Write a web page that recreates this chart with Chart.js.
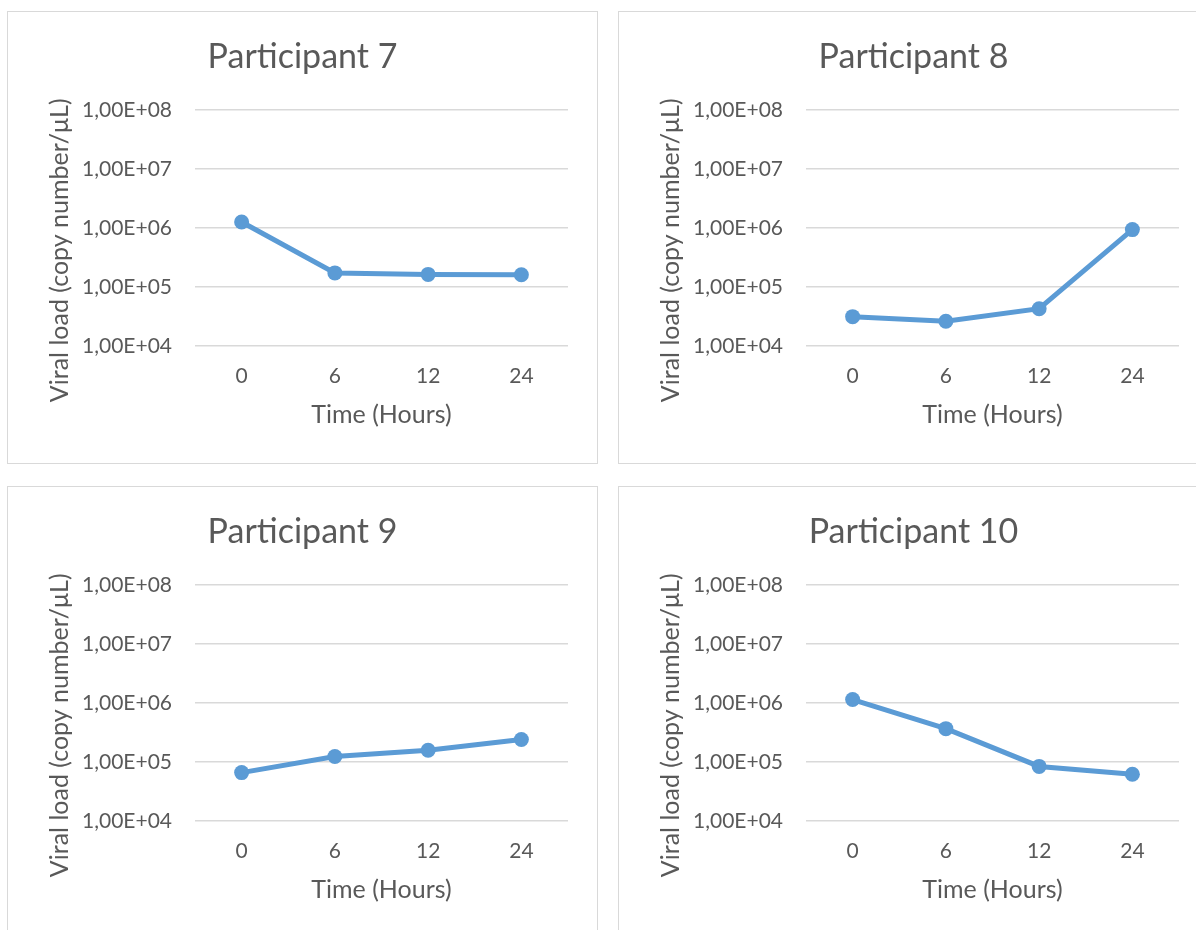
<!DOCTYPE html>
<html>
<head>
<meta charset="utf-8">
<script src="https://cdn.jsdelivr.net/npm/chart.js@4.4.1/dist/chart.umd.min.js"></script>
<style>
  body { margin: 0; background: #fff; width: 1196px; height: 930px; overflow: hidden; position: relative; }
  .panel { position: absolute; width: 591px; height: 453px; border: 1px solid #d9d9d9; box-sizing: border-box; background: #fff; }
  .panel.low { height: 470px; }
  .panel canvas { position: absolute; left: 0; top: 0; }
</style>
</head>
<body>
<div class="panel" style="left:7px;top:11px"><canvas id="chart7" width="589" height="451"></canvas></div>
<div class="panel" style="left:618px;top:11px"><canvas id="chart8" width="589" height="451"></canvas></div>
<div class="panel low" style="left:7px;top:486px"><canvas id="chart9" width="589" height="451"></canvas></div>
<div class="panel low" style="left:618px;top:486px"><canvas id="chart10" width="589" height="451"></canvas></div>

<script>
// time points (hours)
const timeLabels = ['0', '6', '12', '24'];

// viral load, copy number/uL
const participant7 = [1.26e6, 1.73e5, 1.63e5, 1.61e5];
const participant8 = [3.14e4, 2.63e4, 4.28e4, 9.35e5];
const participant9 = [6.6e4, 1.24e5, 1.58e5, 2.4e5];
const participant10 = [1.14e6, 3.66e5, 8.4e4, 6.2e4];

const chartTitles = ['Participant 7', 'Participant 8', 'Participant 9', 'Participant 10'];

// y axis ticks
const yTickValues = [1e4, 1e5, 1e6, 1e7, 1e8];
const yTickLabels = ['1,00E+04', '1,00E+05', '1,00E+06', '1,00E+07', '1,00E+08'];

Chart.defaults.font.family = 'Lato, "Open Sans", sans-serif';
Chart.defaults.color = '#595959';

function makeChart(canvasId, title, values) {
    return new Chart(document.getElementById(canvasId), {
        type: 'line',
        data: {
            labels: timeLabels,
            datasets: [{
                label: title,
                data: values,
                borderColor: '#5B9BD5',
                backgroundColor: '#5B9BD5',
                borderWidth: 5,
                pointRadius: 7.5,
                pointBorderWidth: 0,
                pointBackgroundColor: '#5B9BD5',
                tension: 0
            }]
        },
        options: {
            responsive: false,
            animation: false,
            layout: { padding: 0 },
            plugins: {
                legend: { display: false },
                tooltip: { enabled: false },
                title: {
                    display: true,
                    text: title,
                    color: '#595959',
                    font: { size: 34, weight: 'normal' },
                    padding: { top: 25, bottom: 32 }
                }
            },
            scales: {
                x: {
                    type: 'category',
                    offset: true,
                    grid: { display: false },
                    border: { display: false },
                    ticks: { padding: 10, font: { size: 21 }, color: '#595959' },
                    title: {
                        display: true,
                        text: 'Time (Hours)',
                        color: '#595959',
                        font: { size: 25 },
                        padding: { top: 0, bottom: 33 }
                    },
                    afterFit: function(scale) { scale.height = 117; }
                },
                y: {
                    type: 'logarithmic',
                    min: 1e4,
                    max: 1e8,
                    grid: { color: '#d9d9d9', lineWidth: 1.5, drawTicks: false },
                    border: { display: false },
                    afterBuildTicks: function(scale) {
                        scale.ticks = yTickValues.map(v => ({ value: v }));
                    },
                    ticks: {
                        padding: 23,
                        font: { size: 21 },
                        color: '#595959',
                        callback: function(value) {
                            return yTickLabels[yTickValues.indexOf(value)];
                        }
                    },
                    title: {
                        display: true,
                        // trailing spaces push the text toward the bottom like the original
                        text: 'Viral load (copy number/μL)' + '\u00a0'.repeat(7),
                        color: '#595959',
                        font: { size: 25 },
                        padding: { top: 37, bottom: 0 }
                    },
                    afterFit: function(scale) { scale.width = 187; }
                },
                // empty right axis, only keeps the plot away from the right edge
                // so the title stays centred on the whole panel
                yRight: {
                    type: 'linear',
                    position: 'right',
                    display: true,
                    grid: { display: false },
                    border: { display: false },
                    ticks: { display: false },
                    afterFit: function(scale) { scale.width = 29; }
                }
            }
        }
    });
}

makeChart('chart7', chartTitles[0], participant7);
makeChart('chart8', chartTitles[1], participant8);
makeChart('chart9', chartTitles[2], participant9);
makeChart('chart10', chartTitles[3], participant10);
</script>
</body>
</html>
